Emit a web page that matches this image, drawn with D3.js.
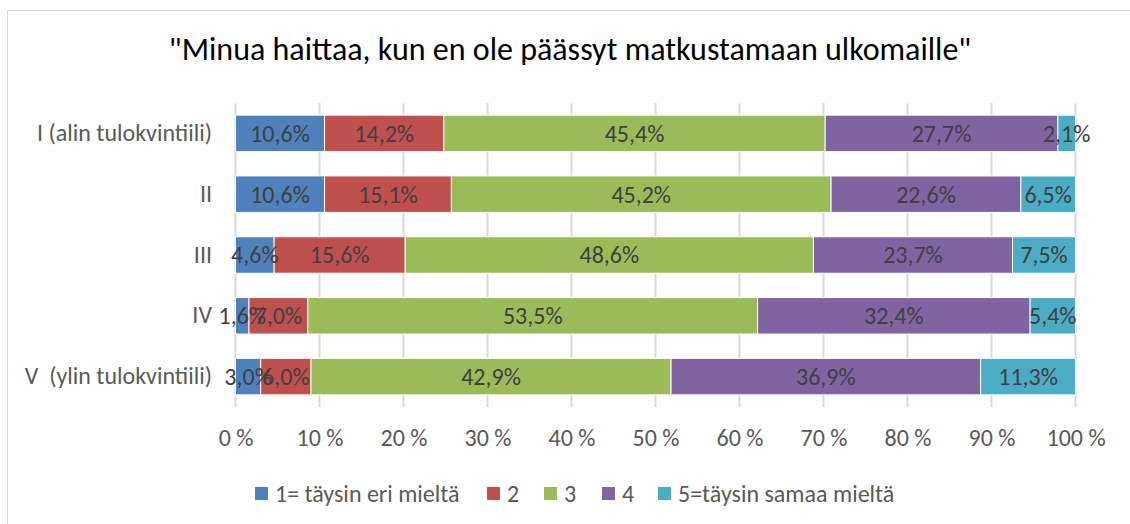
<!DOCTYPE html>
<html>
<head>
<meta charset="utf-8">
<script src="https://cdn.jsdelivr.net/npm/d3@7"></script>
<style>
  body { margin: 0; background: #fff; }
  text { font-family: Carlito, Lato, "Open Sans", sans-serif; white-space: pre; }
</style>
</head>
<body>
<div id="chart"></div>
<script>
// quintile groups (top to bottom)
var groups = ["I (alin tulokvintiili)", "II", "III", "IV", "V  (ylin tulokvintiili)"];
var seriesNames = ["1= täysin eri mieltä", "2", "3", "4", "5=täysin samaa mieltä"];
var colors = ["#4F81BD", "#C0504D", "#9BBB59", "#8064A2", "#4BACC6"];

// percentages per answer, one array per answer
var s1 = [10.6, 10.6, 4.6, 1.6, 3.0];
var s2 = [14.2, 15.1, 15.6, 7.0, 6.0];
var s3 = [45.4, 45.2, 48.6, 53.5, 42.9];
var s4 = [27.7, 22.6, 23.7, 32.4, 36.9];
var s5 = [2.1, 6.5, 7.5, 5.4, 11.3];
var tickValues = [0, 0.1, 0.2, 0.3, 0.4, 0.5, 0.6, 0.7, 0.8, 0.9, 1];

var svgWidth = 1130, svgHeight = 524;
var margin = { top: 103, left: 235.5, right: 54.5, bottom: 117 };
var chartWidth = svgWidth - margin.left - margin.right;
var chartHeight = svgHeight - margin.top - margin.bottom;

var svg = d3.select("#chart").append("svg")
    .attr("width", svgWidth)
    .attr("height", svgHeight);

// outer frame
svg.append("rect")
    .attr("x", 7.5).attr("y", 10.5)
    .attr("width", 1130).attr("height", 530)
    .attr("fill", "none").attr("stroke", "#d9d9d9");

svg.append("text")
    .attr("x", 570).attr("y", 60)
    .attr("text-anchor", "middle")
    .attr("font-size", 32)
    .attr("fill", "#000")
    .text("\"Minua haittaa, kun en ole päässyt matkustamaan ulkomaille\"");

var chartGroup = svg.append("g")
    .attr("transform", `translate(${margin.left}, ${margin.top})`);

// build rows
var all = [s1, s2, s3, s4, s5];
var rows = groups.map(function(g, i) {
    var row = { group: g };
    var total = d3.sum(all, s => s[i]);
    seriesNames.forEach(function(n, j) { row[n] = all[j][i] / total; row["lab" + j] = all[j][i]; });
    return row;
});

var stack = d3.stack().keys(seriesNames);
var stacked = stack(rows);

var xScale = d3.scaleLinear().domain([0, 1]).range([0, chartWidth]);
var yScale = d3.scaleBand().domain(groups).range([0, chartHeight])
    .paddingInner(0.4).paddingOuter(0.2);

// gridlines
chartGroup.selectAll(".grid")
    .data(tickValues)
    .enter()
    .append("line")
    .attr("x1", d => xScale(d)).attr("x2", d => xScale(d))
    .attr("y1", 0).attr("y2", chartHeight)
    .attr("stroke", "#d9d9d9").attr("stroke-width", 2);

var layers = chartGroup.selectAll(".layer")
    .data(stacked)
    .enter()
    .append("g")
    .attr("fill", (d, i) => colors[i]);

layers.selectAll("rect")
    .data(d => d)
    .enter()
    .append("rect")
    .attr("x", d => xScale(d[0]))
    .attr("y", d => yScale(d.data.group))
    .attr("width", d => xScale(d[1]) - xScale(d[0]))
    .attr("height", yScale.bandwidth())
    .attr("stroke", "#fff").attr("stroke-width", 1);

// value labels
stacked.forEach(function(layer, j) {
    chartGroup.selectAll(".lab" + j)
        .data(layer)
        .enter()
        .append("text")
        .attr("x", d => xScale((d[0] + d[1]) / 2))
        .attr("y", d => yScale(d.data.group) + yScale.bandwidth() / 2)
        .attr("dy", "0.35em")
        .attr("text-anchor", "middle")
        .attr("font-size", 24)
        .attr("fill", "#404040")
        .text(d => d.data["lab" + j].toFixed(1).replace(".", ",") + "%");
});

// y axis labels
var yAxis = d3.axisLeft(yScale).tickSize(0).tickPadding(23.5);
var yg = chartGroup.append("g").call(yAxis);
yg.select(".domain").remove();
yg.selectAll("text").attr("font-size", 24).attr("fill", "#595959").attr("font-family", null);

// x axis
var xAxis = d3.axisBottom(xScale).tickValues(tickValues).tickSize(0).tickPadding(22)
    .tickFormat(d => Math.round(d * 100) + " %");
var xg = chartGroup.append("g")
    .attr("transform", `translate(0, ${chartHeight})`)
    .call(xAxis);
xg.select(".domain").remove();
xg.selectAll("text").attr("font-size", 24).attr("fill", "#595959").attr("font-family", null);

// legend
var legendX = [255, 487, 544, 602, 658];
var legend = svg.selectAll(".legend")
    .data(seriesNames)
    .enter()
    .append("g")
    .attr("transform", (d, i) => `translate(${legendX[i]}, 487)`);
legend.append("rect").attr("width", 13).attr("height", 13).attr("fill", (d, i) => colors[i]);
legend.append("text")
    .attr("x", 20).attr("y", 6.5).attr("dy", "0.35em")
    .attr("font-size", 24).attr("fill", "#595959")
    .text(d => d);
</script>
</body>
</html>
